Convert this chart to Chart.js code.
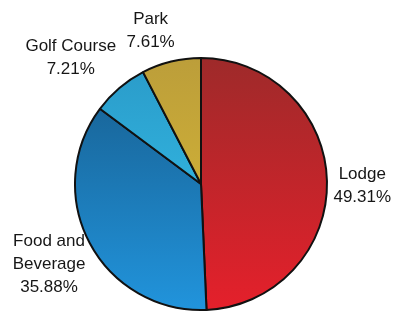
<!DOCTYPE html>
<html>
<head>
<meta charset="utf-8">
<script src="https://cdn.jsdelivr.net/npm/chart.js@4.4.0/dist/chart.umd.min.js"></script>
<style>
html,body{margin:0;padding:0;background:#fff;}
#wrap{position:relative;width:393px;height:312px;}
</style>
</head>
<body>
<div id="wrap"><canvas id="c" width="393" height="312"></canvas></div>
<script>
const categories = ["Lodge", "Food and Beverage", "Golf Course", "Park"];
const labelLines = [["Lodge"], ["Food and", "Beverage"], ["Golf Course"], ["Park"]];
const shares = [49.31, 35.88, 7.21, 7.61];
const shareLabels = ["49.31%", "35.88%", "7.21%", "7.61%"];

const gradStops = [
  ["#9e2a2a", "#e5202b"],
  ["#175c8c", "#2194dc"],
  ["#2a9ac8", "#36c6f0"],
  ["#bc9e3a", "#dcbc34"]
];
// label placement: radial distance factor and angle tweak (deg)
const labelPlace = [
  {f: 1.28, da: 1.8},
  {f: 1.365, da: 0},
  {f: 1.44, da: -5.5},
  {f: 1.28, da: -4.5}
];

function bg(ctx) {
  const chart = ctx.chart;
  const area = chart.chartArea;
  if (!area) return gradStops[ctx.dataIndex][1];
  const g = chart.ctx.createLinearGradient(0, area.top, 0, area.bottom);
  g.addColorStop(0, gradStops[ctx.dataIndex][0]);
  g.addColorStop(1, gradStops[ctx.dataIndex][1]);
  return g;
}

const labelPlugin = {
  id: 'outerLabels',
  afterDatasetsDraw(chart) {
    const meta = chart.getDatasetMeta(0);
    const c = chart.ctx;
    c.save();
    c.font = '17px "Liberation Sans", Arial, sans-serif';
    c.fillStyle = '#161616';
    c.textAlign = 'center';
    c.textBaseline = 'middle';
    meta.data.forEach((arc, i) => {
      const p = arc.getProps(['x', 'y', 'startAngle', 'endAngle', 'outerRadius'], true);
      const mid = (p.startAngle + p.endAngle) / 2 + labelPlace[i].da * Math.PI / 180;
      const r = p.outerRadius * labelPlace[i].f;
      const lx = p.x + Math.cos(mid) * r;
      const ly = p.y + Math.sin(mid) * r;
      const lines = labelLines[i].concat([shareLabels[i]]);
      const lh = 23;
      const y0 = ly - (lines.length - 1) * lh / 2;
      lines.forEach((t, k) => c.fillText(t, lx, y0 + k * lh));
    });
    c.restore();
  }
};

new Chart(document.getElementById('c'), {
  type: 'pie',
  data: {
    labels: categories,
    datasets: [{
      data: shares,
      backgroundColor: bg,
      borderColor: '#111',
      borderWidth: 2,
      radius: 126
    }]
  },
  options: {
    responsive: false,
    animation: false,
    rotation: 0,
    layout: {padding: {left: 75, right: 66, top: 58, bottom: 2}},
    plugins: {legend: {display: false}, tooltip: {enabled: false}}
  },
  plugins: [labelPlugin]
});
</script>
</body>
</html>
